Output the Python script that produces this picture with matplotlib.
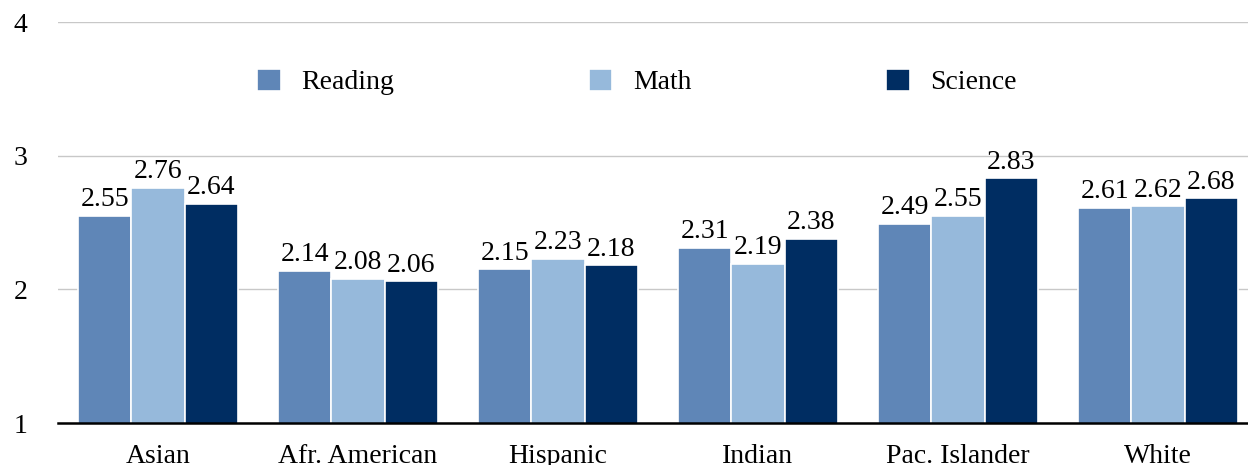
import numpy as np
import matplotlib
matplotlib.use("Agg")
import matplotlib.pyplot as plt

plt.rcParams['font.family'] = ['Liberation Serif', 'DejaVu Serif']

groups = ['Asian', 'Afr. American', 'Hispanic', 'Indian', 'Pac. Islander', 'White']
reading = [2.55, 2.14, 2.15, 2.31, 2.49, 2.61]
math = [2.76, 2.08, 2.23, 2.19, 2.55, 2.62]
science = [2.64, 2.06, 2.18, 2.38, 2.83, 2.68]

series = [('Reading', reading, '#5f86b7'),
          ('Math', math, '#96b9db'),
          ('Science', science, '#002d62')]

FS = 20
W, H = 1248, 465
fig = plt.figure(figsize=(W / 100, H / 100), dpi=100)
# plot area runs past the right edge of the canvas
ax = fig.add_axes([58 / W, 42 / H, 1200 / W, 401 / H])

x = np.arange(len(groups))
bw = 0.8 / 3
for i, (name, vals, col) in enumerate(series):
    bars = ax.bar(x + (i - 1) * bw, vals, bw, color=col, edgecolor='white',
                  linewidth=1.2, label=name, zorder=3)
    for rect, v in zip(bars, vals):
        ax.annotate(f'{v:.2f}', (rect.get_x() + rect.get_width() / 2, v),
                    xytext=(0, 7), textcoords='offset points',
                    ha='center', va='baseline', fontsize=FS, zorder=4)

ax.set_xlim(-0.5, len(groups) - 0.5)
ax.set_ylim(1, 4)
ax.set_yticks([1, 2, 3, 4])
ax.set_xticks(x)
ax.set_xticklabels(groups)
ax.tick_params(axis='both', length=0, labelsize=FS)
ax.tick_params(axis='y', pad=22)
ax.tick_params(axis='x', pad=15)
ax.yaxis.grid(True, color='#c8c8c8', linewidth=1.0, zorder=0)
ax.set_axisbelow(True)
for s in ['top', 'right', 'left']:
    ax.spines[s].set_visible(False)
ax.spines['bottom'].set_linewidth(1.8)
ax.spines['bottom'].set_color('black')
ax.spines['bottom'].set_zorder(5)

fig.legend(loc='center left', bbox_to_anchor=(257 / W, (H - 82) / H),
           ncol=3, frameon=False, fontsize=FS, borderpad=0, borderaxespad=0,
           handlelength=0.85, handleheight=0.85, handletextpad=0.75,
           columnspacing=7.0)

fig.savefig('out.png', dpi=100)
